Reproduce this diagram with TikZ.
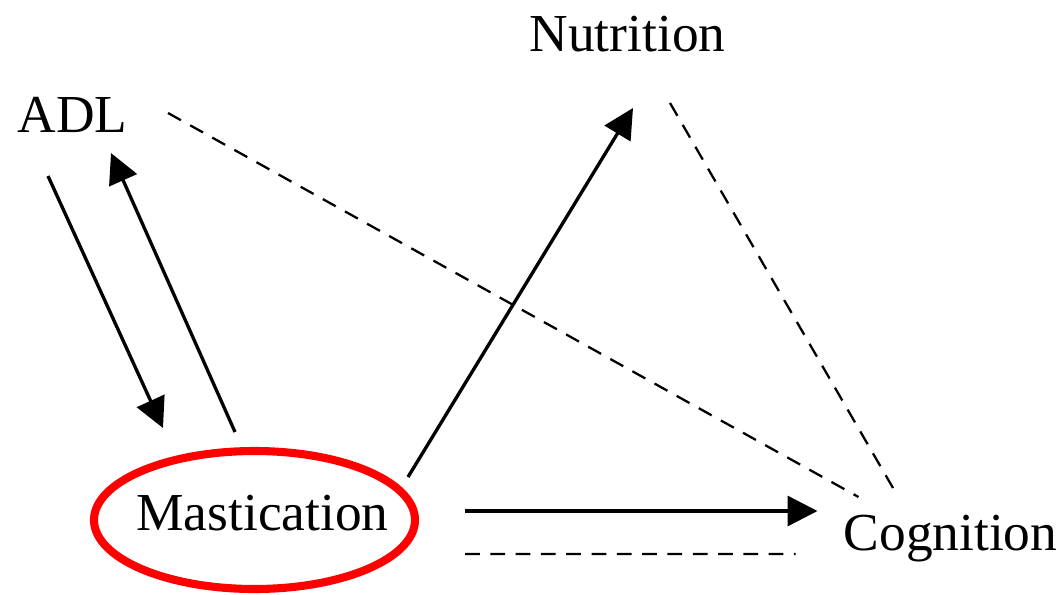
\documentclass[tikz,border=0pt]{standalone}
\usepackage{fontspec}
\setmainfont{Liberation Serif}
\usetikzlibrary{arrows.meta}

\tikzset{
  lbl/.style={font=\fontsize{15.2pt}{18pt}\selectfont, anchor=base, inner sep=0pt},
  arw/.style={-{Triangle[length=8.5pt,width=8.5pt]}, line width=0.95pt},
  dsh/.style={dash pattern=on 4.2pt off 3pt, line width=0.65pt}
}

\begin{document}
\begin{tikzpicture}

\useasboundingbox (0,0) rectangle (10.63,5.94);

\node [lbl] (adl) at (0.725,4.62) {ADL};
\node [lbl] (nut) at (6.275,5.42) {Nutrition};
\node [lbl] (mast) at (2.625,0.635) {Mastication};
\node [lbl] (cog) at (9.505,0.44) {Cognition};

% red ring round Mastication
\draw [red, line width=2.3pt] ([xshift=-0.08cm,yshift=0.105cm]mast.base) ellipse (1.605cm and 0.69cm);

% ADL <-> Mastication
\draw [arw] ([xshift=-0.245cm,yshift=-0.44cm]adl.base) -- ([xshift=-0.995cm,yshift=1.025cm]mast.base);
\draw [arw] ([xshift=-0.275cm,yshift=0.985cm]mast.base) -- ([xshift=0.385cm,yshift=-0.21cm]adl.base);

% Mastication -> Nutrition, Cognition
\draw [arw] ([xshift=1.455cm,yshift=0.535cm]mast.base) -- ([xshift=0.055cm,yshift=-0.56cm]nut.base);
\draw [arw] ([xshift=2.025cm,yshift=0.195cm]mast.base) -- ([xshift=-1.33cm,yshift=0.39cm]cog.base);

% dashed links
\draw [dsh] ([xshift=2.025cm,yshift=-0.235cm]mast.base) -- ([xshift=-1.55cm,yshift=-0.04cm]cog.base);
\draw [dsh] ([xshift=0.955cm,yshift=0.19cm]adl.base) -- ([xshift=-0.92cm,yshift=0.53cm]cog.base);
\draw [dsh] ([xshift=0.425cm,yshift=-0.51cm]nut.base) -- ([xshift=-0.54cm,yshift=0.56cm]cog.base);

\end{tikzpicture}
\end{document}
